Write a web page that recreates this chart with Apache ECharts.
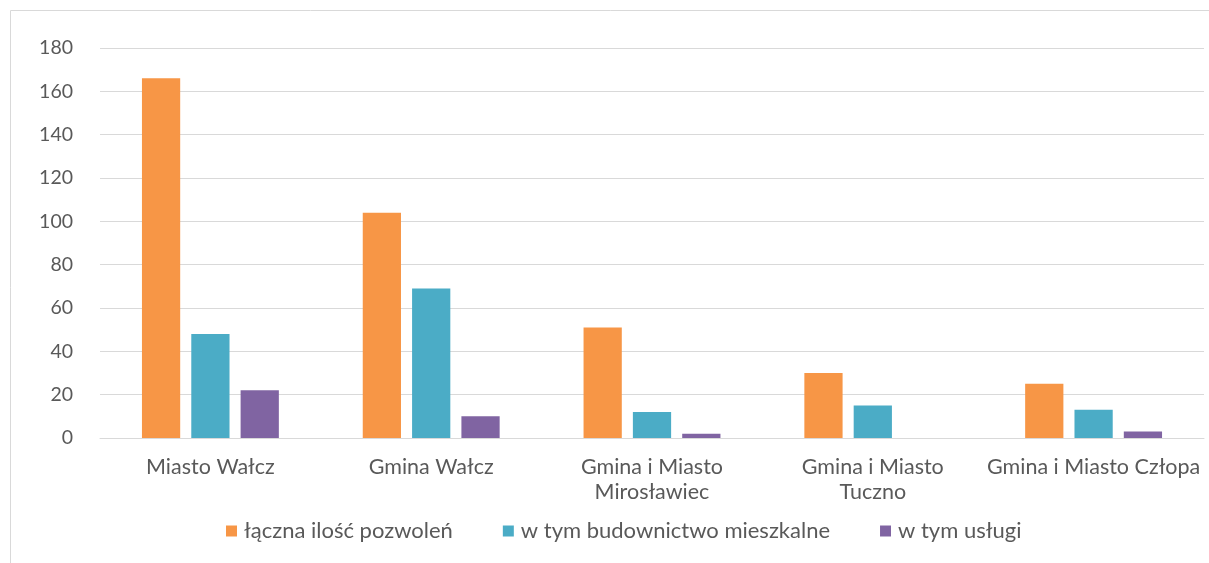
<!DOCTYPE html>
<html>
<head>
<meta charset="utf-8">
<script src="https://cdn.jsdelivr.net/npm/echarts@6/dist/echarts.min.js"></script>
<style>
  html, body { margin: 0; padding: 0; background: #fff; }
  #chart { width: 1209px; height: 563px; }
</style>
</head>
<body>
<div id="chart"></div>
<script>
// data
const categories = [
  "Miasto Wałcz",
  "Gmina Wałcz",
  "Gmina i Miasto\nMirosławiec",
  "Gmina i Miasto\nTuczno",
  "Gmina i Miasto Człopa"
];
const seriesNames = ["łączna ilość pozwoleń", "w tym budownictwo mieszkalne", "w tym usługi"];
const totalPermits = [166, 104, 51, 30, 25];
const housing = [48, 69, 12, 15, 13];
const services = [22, 10, 2, 0, 3];
const colors = ["#f79646", "#4bacc6", "#8064a2"];

const chart = echarts.init(document.getElementById("chart"));

const font = "Lato, 'Open Sans', sans-serif";
const values = [totalPermits, housing, services];

chart.setOption({
  animation: false,
  textStyle: { fontFamily: font },
  graphic: [{
    type: "rect",
    shape: { x: 10.5, y: 10.5, width: 1300, height: 700 },
    style: { fill: "none", stroke: "#d9d9d9", lineWidth: 1 }
  }],
  grid: { left: 100, right: 5, top: 48, bottom: 125 },
  legend: {
    bottom: 16,
    left: 221,
    itemWidth: 11,
    itemHeight: 11,
    itemGap: 50,
    icon: "rect",
    textStyle: { fontSize: 22, color: "#595959", fontFamily: font, padding: [0, 0, 0, 2] }
  },
  xAxis: {
    type: "category",
    data: categories,
    axisLine: { lineStyle: { color: "#d9d9d9", width: 1 } },
    axisTick: { show: false },
    axisLabel: { fontSize: 21.5, color: "#595959", margin: 17, lineHeight: 25, interval: 0 }
  },
  yAxis: {
    type: "value",
    min: 0,
    max: 180,
    interval: 20,
    axisLine: { show: false },
    axisTick: { show: false },
    splitLine: { lineStyle: { color: "#d9d9d9", width: 1 } },
    axisLabel: { fontSize: 19.5, color: "#595959", margin: 27 }
  },
  series: seriesNames.map((name, i) => ({
    name: name,
    type: "bar",
    data: values[i],
    barGap: "29%",
    barCategoryGap: "38%",
    itemStyle: { color: colors[i] }
  }))
});
</script>
</body>
</html>
